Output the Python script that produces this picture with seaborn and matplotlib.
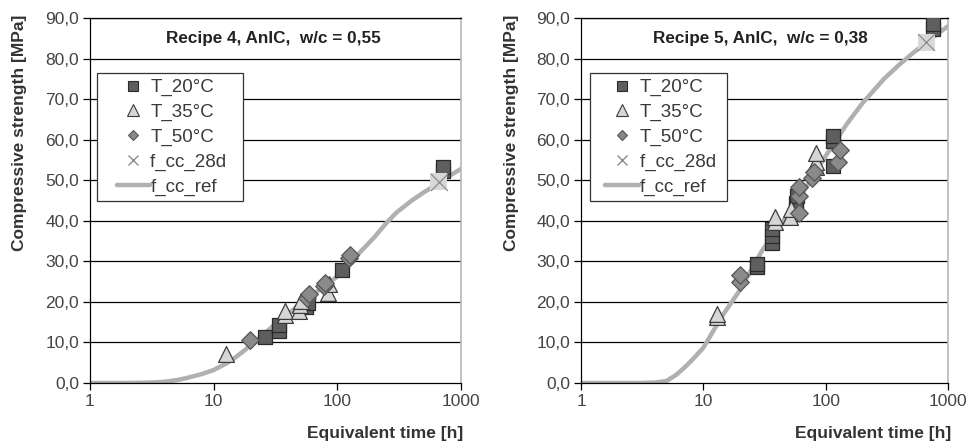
import numpy as np
import pandas as pd
import matplotlib
matplotlib.use("Agg")
import matplotlib.pyplot as plt
import seaborn as sns
from matplotlib.lines import Line2D
from matplotlib.legend_handler import HandlerLine2D
from matplotlib.ticker import FuncFormatter, FixedLocator, NullLocator

# ---------------- data: Recipe 4 ----------------
r4_title = "Recipe 4, AnIC,  w/c = 0,55"
r4_t20_t = [26, 34, 34, 56, 58, 110, 720, 720]
r4_t20_f = [11.4, 12.8, 14.3, 18.8, 19.8, 27.9, 52.2, 53.2]
r4_t35_t = [12.5, 37.7, 38, 49, 50, 51, 84, 86]
r4_t35_f = [7.2, 16.8, 17.8, 17.8, 19.2, 20.2, 22.3, 24.3]
r4_t50_t = [19.5, 57, 59, 78, 80, 124, 126]
r4_t50_f = [10.5, 21.0, 22.0, 23.8, 24.6, 30.8, 31.6]
r4_28d_t = [660]
r4_28d_f = [49.6]
r4_ref_t = [1, 2, 3, 4, 5, 6, 8, 10, 13, 15, 20, 25, 30, 40, 50, 60, 80, 100,
            130, 150, 200, 250, 300, 400, 500, 600, 700, 800, 1000]
r4_ref_f = [0, 0, 0.1, 0.3, 0.7, 1.2, 2.2, 3.2, 5.0, 6.3, 9.3, 11.8, 14.0, 17.0,
            19.5, 21.3, 24.0, 26.3, 30.0, 32.0, 36.0, 39.5, 42.0, 45.0, 47.0,
            48.5, 49.8, 51.0, 52.8]

# ---------------- data: Recipe 5 ----------------
r5_title = "Recipe 5, AnIC,  w/c = 0,38"
r5_t20_t = [27.3, 27.3, 36.2, 36.2, 36.2, 57, 57, 58, 115, 115, 115, 760, 760]
r5_t20_f = [28.6, 29.3, 34.5, 36.2, 38.0, 43.0, 44.5, 46.0, 53.6, 59.6, 60.8, 87.3, 88.4]
r5_t35_t = [12.9, 12.9, 38.6, 38.6, 51, 52, 83.5, 83.5, 83.5]
r5_t35_f = [16.2, 17.0, 39.8, 41.0, 41.0, 42.9, 53.2, 54.6, 56.7]
r5_t50_t = [20, 20, 60, 60, 60, 78, 80, 127, 131]
r5_t50_f = [24.8, 26.6, 42.0, 46.1, 48.4, 50.6, 52.1, 54.6, 57.5]
r5_28d_t = [665]
r5_28d_f = [84.0]
r5_ref_t = [1, 3, 4, 5, 6, 7, 8, 10, 13, 15, 20, 30, 40, 50, 70, 100, 150, 200,
            300, 400, 500, 700, 1000]
r5_ref_f = [0, 0, 0.1, 0.5, 2.0, 3.8, 5.5, 8.7, 14.5, 17.5, 23.0, 32.5, 37.8,
            42.0, 48.5, 56.0, 64.0, 69.0, 75.0, 78.5, 81.0, 84.5, 88.0]

legend_labels = ["T_20°C", "T_35°C", "T_50°C", "f_cc_28d", "f_cc_ref"]
y_ticks = [0, 10, 20, 30, 40, 50, 60, 70, 80, 90]
x_ticks = [1, 10, 100, 1000]

sns.set_style("white")
plt.rcParams["font.family"] = ["Liberation Sans", "DejaVu Sans"]

C_SQ, E_SQ = "#5e5e5e", "#2a2a2a"
C_TR, E_TR = "#d6d6d6", "#3c3c3c"
C_DI, E_DI = "#8a8a8a", "#555555"
C_28, E_28 = "#d8d8d8", "#8c8c8c"
C_REF = "#b0b0b0"


class ShiftHandler(HandlerLine2D):
    """Legend handle drawn in the right part of the handle box."""
    def __init__(self, frac, **kw):
        super().__init__(**kw)
        self.frac = frac

    def get_xdata(self, legend, xdescent, ydescent, width, height, fontsize):
        x0 = -xdescent + width * self.frac
        x1 = -xdescent + width
        return np.array([x0, x1]), np.array([(x0 + x1) / 2.0])


fig = plt.figure(figsize=(9.73, 4.42), dpi=100)
ax1 = fig.add_axes([90 / 973, 59 / 442, 371 / 973, 365 / 442])
ax2 = fig.add_axes([581 / 973, 59 / 442, 367 / 973, 365 / 442])


def draw(ax, title, t20, t35, t50, t28, ref, title_x, leg_x, xl_x,
         hlen, hfrac, trail):
    ax.set_xscale("log")
    ax.set_xlim(1, 1000)
    ax.set_ylim(0, 90)
    for yv in y_ticks[1:]:
        ax.axhline(yv, color="black", lw=0.9, zorder=1)
    ref_df = pd.DataFrame({"t": ref[0], "f": ref[1]})
    sns.lineplot(data=ref_df, x="t", y="f", ax=ax, color=C_REF, lw=3.2,
                 zorder=2, legend=False)
    df20 = pd.DataFrame({"t": t20[0], "f": t20[1]})
    df35 = pd.DataFrame({"t": t35[0], "f": t35[1]})
    df50 = pd.DataFrame({"t": t50[0], "f": t50[1]})
    df28 = pd.DataFrame({"t": t28[0], "f": t28[1]})
    sns.scatterplot(data=df20, x="t", y="f", ax=ax, marker="s", s=95,
                    color=C_SQ, edgecolor=E_SQ, linewidth=0.9, zorder=4, legend=False)
    sns.scatterplot(data=df35, x="t", y="f", ax=ax, marker="^", s=130,
                    color=C_TR, edgecolor=E_TR, linewidth=0.9, zorder=4, legend=False)
    sns.scatterplot(data=df50, x="t", y="f", ax=ax, marker="D", s=80,
                    color=C_DI, edgecolor=E_DI, linewidth=0.9, zorder=4, legend=False)
    sns.scatterplot(data=df28, x="t", y="f", ax=ax, marker="s", s=150,
                    color=C_28, edgecolor="none", linewidth=0, zorder=5, legend=False)
    sns.scatterplot(data=df28, x="t", y="f", ax=ax, marker="x", s=150,
                    color=E_28, linewidth=0.9, zorder=6, legend=False)

    ax.xaxis.set_major_locator(FixedLocator(x_ticks))
    ax.xaxis.set_minor_locator(NullLocator())
    ax.xaxis.set_major_formatter(FuncFormatter(lambda v, p: f"{v:g}"))
    ax.yaxis.set_major_locator(FixedLocator(y_ticks))
    ax.yaxis.set_major_formatter(FuncFormatter(lambda v, p: f"{v:.1f}".replace(".", ",")))
    ax.tick_params(axis="both", which="major", direction="out", length=5,
                   width=0.9, color="black", labelsize=12.5, labelcolor="#444444",
                   bottom=True, left=True, pad=3)
    for s in ["left", "bottom", "top"]:
        ax.spines[s].set_color("black")
        ax.spines[s].set_linewidth(0.9)
        ax.spines[s].set_visible(True)
    ax.spines["right"].set_color("#b8b8b8")
    ax.spines["right"].set_linewidth(1.2)
    ax.spines["right"].set_visible(True)

    ax.set_xlabel("Equivalent time [h]", fontsize=12.5, fontweight="bold",
                  color="#333333", loc="right")
    ax.xaxis.set_label_coords(xl_x, -0.117)
    ax.set_ylabel("Compressive strength [MPa]", fontsize=12.5, fontweight="bold",
                  color="#333333", loc="top")
    ax.yaxis.set_label_coords(-0.17, 1.01)

    ax.text(title_x, 0.945, title, transform=ax.transAxes, ha="center",
            va="center", fontsize=12.3, fontweight="bold", color="#222222",
            zorder=7)

    handles = [
        Line2D([], [], ls="none", marker="s", ms=6.5, mfc=C_SQ, mec=E_SQ, mew=0.8),
        Line2D([], [], ls="none", marker="^", ms=8, mfc=C_TR, mec=E_TR, mew=0.8),
        Line2D([], [], ls="none", marker="D", ms=5.5, mfc=C_DI, mec=E_DI, mew=0.8),
        Line2D([], [], ls="none", marker="x", ms=7, mec="#8c8c8c", mew=1.0),
        Line2D([], [], color=C_REF, lw=3.2),
    ]
    labels = list(legend_labels)
    labels[3] = labels[3] + " " * trail
    hm = {h: ShiftHandler(hfrac) for h in handles}
    leg = ax.legend(handles, labels, loc="upper left", handler_map=hm,
                    bbox_to_anchor=(leg_x, 0.848), borderaxespad=0,
                    fontsize=13.5, frameon=True, fancybox=False,
                    edgecolor="#333333", framealpha=1, handlelength=hlen,
                    handletextpad=0.03, labelspacing=0.40, borderpad=0.3,
                    labelcolor="#3a3a3a", numpoints=1)
    leg.get_frame().set_linewidth(0.9)
    leg.set_zorder(8)


draw(ax1, r4_title, (r4_t20_t, r4_t20_f), (r4_t35_t, r4_t35_f),
     (r4_t50_t, r4_t50_f), (r4_28d_t, r4_28d_f), (r4_ref_t, r4_ref_f),
     0.494, 0.018, 1.005, 2.54, 0.31, 2)
draw(ax2, r5_title, (r5_t20_t, r5_t20_f), (r5_t35_t, r5_t35_f),
     (r5_t50_t, r5_t50_f), (r5_28d_t, r5_28d_f), (r5_ref_t, r5_ref_f),
     0.489, 0.025, 1.01, 2.33, 0.22, 1)

fig.savefig("out.png", dpi=100)
